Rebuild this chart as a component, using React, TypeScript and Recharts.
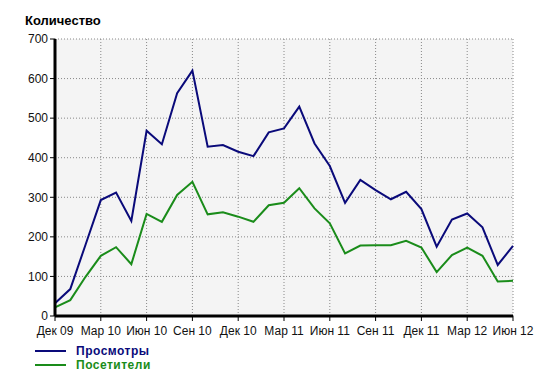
import { LineChart, Line, XAxis, YAxis, CartesianGrid } from "recharts";

const months = [
  "Дек 09", "Янв 10", "Фев 10", "Мар 10", "Апр 10", "Май 10", "Июн 10", "Июл 10",
  "Авг 10", "Сен 10", "Окт 10", "Ноя 10", "Дек 10", "Янв 11", "Фев 11", "Мар 11",
  "Апр 11", "Май 11", "Июн 11", "Июл 11", "Авг 11", "Сен 11", "Окт 11", "Ноя 11",
  "Дек 11", "Янв 12", "Фев 12", "Мар 12", "Апр 12", "Май 12", "Июн 12",
];

const views = [
  32, 68, 180, 293, 312, 240, 468, 434, 563, 620, 428, 432, 415, 404, 464, 474,
  529, 436, 379, 286, 344, 318, 295, 314, 270, 175, 244, 259, 224, 129, 177,
];

const visitors = [
  22, 40, 99, 152, 174, 131, 258, 238, 306, 339, 257, 262, 251, 238, 280, 286,
  323, 272, 234, 158, 178, 179, 179, 190, 173, 111, 154, 173, 152, 87, 89,
];

const xTicks = [0, 3, 6, 9, 12, 15, 18, 21, 24, 27, 30];
const yTicks = [0, 100, 200, 300, 400, 500, 600, 700];

const NAVY = "#0a0a7a";
const GREEN = "#1a8c1a";
const FONT = "'Liberation Sans', Arial, sans-serif";

const data = months.map((m, i) => ({
  idx: i,
  month: m,
  views: views[i],
  visitors: visitors[i],
}));

export default function App() {
  return (
    <div
      style={{
        position: "absolute",
        left: 0,
        top: 0,
        width: 540,
        height: 377,
        background: "#fff",
        fontFamily: FONT,
      }}
    >
      <div
        style={{
          position: "absolute",
          left: 25,
          top: 13,
          fontSize: 13,
          fontWeight: "bold",
          color: "#000",
        }}
      >
        Количество
      </div>
      <LineChart
        width={540}
        height={377}
        data={data}
        margin={{ top: 39, right: 27, bottom: 31, left: 0 }}
      >
        <CartesianGrid
          fill="#f4f4f4"
          stroke="#888"
          strokeDasharray="1 2"
        />
        <XAxis
          dataKey="idx"
          type="number"
          domain={[0, 30]}
          ticks={xTicks}
          tickFormatter={(v: number) => months[v]}
          height={30}
          tickSize={5}
          tickMargin={5}
          axisLine={{ stroke: "#000", strokeWidth: 3 }}
          tickLine={{ stroke: "#000" }}
          tick={{ fill: "#111", fontSize: 12, fontFamily: FONT }}
          interval={0}
        />
        <YAxis
          domain={[0, 700]}
          ticks={yTicks}
          width={55}
          tickSize={5}
          axisLine={{ stroke: "#000", strokeWidth: 3 }}
          tickLine={{ stroke: "#000" }}
          tick={{ fill: "#111", fontSize: 12, fontFamily: FONT }}
          interval={0}
        />
        <Line
          type="linear"
          dataKey="views"
          stroke={NAVY}
          strokeWidth={2}
          dot={false}
          isAnimationActive={false}
        />
        <Line
          type="linear"
          dataKey="visitors"
          stroke={GREEN}
          strokeWidth={2}
          dot={false}
          isAnimationActive={false}
        />
      </LineChart>
      {[
        { name: "Просмотры", color: NAVY, top: 344 },
        { name: "Посетители", color: GREEN, top: 358 },
      ].map((item) => (
        <div
          key={item.name}
          style={{
            position: "absolute",
            left: 35,
            top: item.top,
            display: "flex",
            alignItems: "center",
            height: 14,
            lineHeight: "14px",
          }}
        >
          <div style={{ width: 31, height: 2, background: item.color }} />
          <span
            style={{
              marginLeft: 10,
              fontSize: 12,
              lineHeight: "14px",
              fontWeight: "bold",
              color: item.color,
              letterSpacing: 0.5,
            }}
          >
            {item.name}
          </span>
        </div>
      ))}
    </div>
  );
}
